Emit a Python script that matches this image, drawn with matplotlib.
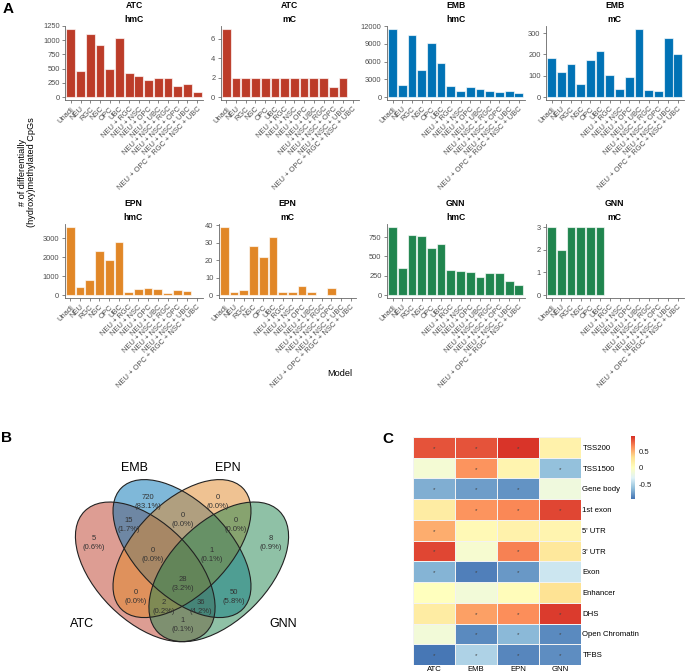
import numpy as np
import matplotlib.pyplot as plt
from matplotlib.patches import Ellipse
from matplotlib.colors import LinearSegmentedColormap

plt.rcParams['font.family'] = ['Liberation Sans', 'DejaVu Sans']

W, H = 685, 672

# panel A data
models = ["Unadj", "NEU", "RGC", "NSC", "OPC", "UBC", "NEU + RGC", "NEU + NSC",
          "NEU + OPC", "NEU + UBC", "NEU + NSC + RGC", "NEU + NSC + OPC",
          "NEU + NSC + UBC", "NEU + OPC + RGC + NSC + UBC"]
atc_hmc = [1195, 460, 1100, 920, 500, 1030, 420, 370, 300, 340, 330, 200, 230, 85]
atc_mc = [7, 2, 2, 2, 2, 2, 2, 2, 2, 2, 2, 1, 2, 0]
emb_hmc = [11500, 2100, 10500, 4600, 9200, 5700, 1850, 1050, 1700, 1350, 950, 850, 950, 750]
emb_mc = [182, 117, 156, 63, 174, 218, 104, 38, 92, 319, 32, 30, 276, 202]
epn_hmc = [3600, 430, 820, 2320, 1870, 2800, 170, 330, 380, 310, 120, 280, 190, 20]
epn_mc = [39, 2, 3, 28, 22, 33, 2, 2, 5, 2, 0, 4, 0, 0]
gnn_hmc = [880, 345, 775, 770, 605, 655, 320, 310, 300, 230, 285, 285, 180, 125]
gnn_mc = [3, 2, 3, 3, 3, 3, 0, 0, 0, 0, 0, 0, 0, 0]

# panel B data
venn_sets = ["ATC", "EMB", "EPN", "GNN"]
venn_counts = [5, 720, 0, 8, 15, 0, 0, 0, 1, 0, 1, 50, 2, 36, 28]
venn_pct = ["0.6", "83.1", "0.0", "0.9", "1.7", "0.0", "0.0", "0.0", "0.1", "0.0",
            "0.1", "5.8", "0.2", "4.2", "3.2"]

# panel C data
regions = ["TSS200", "TSS1500", "Gene body", "1st exon", "5' UTR", "3' UTR", "Exon",
           "Enhancer", "DHS", "Open Chromatin", "TFBS"]
tumours = ["ATC", "EMB", "EPN", "GNN"]
heat_atc = [0.84, -0.10, -0.68, 0.20, 0.52, 0.88, -0.66, 0.02, 0.20, -0.12, -0.92]
heat_emb = [0.84, 0.62, -0.76, 0.62, 0.08, -0.08, -0.88, -0.12, 0.57, -0.84, -0.50]
heat_epn = [0.94, 0.12, -0.80, 0.66, 0.15, 0.68, -0.78, 0.05, 0.64, -0.64, -0.85]
heat_gnn = [0.15, -0.60, -0.15, 0.88, 0.12, 0.25, -0.38, 0.30, 0.92, -0.84, -0.82]
star_atc = [1, 0, 1, 0, 1, 1, 1, 0, 0, 0, 1]
star_emb = [1, 1, 1, 1, 0, 0, 1, 0, 1, 1, 1]
star_epn = [1, 0, 1, 1, 0, 1, 1, 0, 1, 1, 1]
star_gnn = [0, 1, 0, 1, 0, 0, 0, 0, 1, 1, 1]

col_atc, col_emb, col_epn, col_gnn = '#BC3C29', '#0072B5', '#E18727', '#20854E'


def px_axes(fig, x0, y0, x1, y1):
    return fig.add_axes([x0 / W, 1 - y1 / H, (x1 - x0) / W, (y1 - y0) / H])


fig = plt.figure(figsize=(W / 100, H / 100), dpi=100)

panels = [
    ("ATC", "hmC", atc_hmc, col_atc, [0, 250, 500, 750, 1000, 1250], 65, 25.6),
    ("ATC", "mC", atc_mc, col_atc, [0, 2, 4, 6], 220.5, 25.6),
    ("EMB", "hmC", emb_hmc, col_emb, [0, 3000, 6000, 9000, 12000], 386.7, 25.6),
    ("EMB", "mC", emb_mc, col_emb, [0, 100, 200, 300], 545.7, 25.6),
    ("EPN", "hmC", epn_hmc, col_epn, [0, 1000, 2000, 3000], 64.5, 223.6),
    ("EPN", "mC", epn_mc, col_epn, [0, 10, 20, 30, 40], 218.5, 223.6),
    ("GNN", "hmC", gnn_hmc, col_gnn, [0, 250, 500, 750], 386.7, 223.6),
    ("GNN", "mC", gnn_mc, col_gnn, [0, 1, 2, 3], 545.7, 223.6),
]
for tum, mark, vals, col, yt, x0, y0 in panels:
    ax = px_axes(fig, x0, y0, x0 + 138, y0 + 74.8)
    xs = np.arange(1, len(models) + 1)
    ax.bar(xs, vals, width=0.9, color=col, edgecolor=(1, 1, 1, 0.65), linewidth=0.8)
    m = max(vals)
    ax.set_ylim(-0.05 * m, 1.05 * m)
    ax.set_xlim(0.4, len(models) + 0.6)
    ax.set_yticks(yt)
    ax.set_xticks(xs)
    ax.set_xticklabels(models, rotation=45, ha='right', rotation_mode='anchor')
    ax.tick_params(labelsize=5.4, length=2.2, width=0.5, colors='#555555',
                   labelcolor='#4d4d4d', pad=1.5)
    for s in ['top', 'right']:
        ax.spines[s].set_visible(False)
    for s in ['left', 'bottom']:
        ax.spines[s].set_color('#666666')
        ax.spines[s].set_linewidth(0.6)
    cx = (x0 + 69) / W
    fig.text(cx, 1 - (y0 - 19.6) / H, tum, ha='center', va='center', fontsize=6.2, fontweight='bold')
    fig.text(cx, 1 - (y0 - 5.6) / H, mark, ha='center', va='center', fontsize=6.2, fontweight='bold')

fig.text(27 / W, 1 - 172 / H, "# of differentially\n(hydroxy)methylated CpGs", rotation=90,
         ha='center', va='center', fontsize=6.6, linespacing=1.1)
fig.text(340 / W, 1 - 373 / H, "Model", ha='center', va='center', fontsize=6.6)


# panel B: venn, drawn in unit coordinates mapped from pixels
def u(x):
    return 0.5 + (x - 182) / 245


def v(y):
    return (687 - y) / 245


axv = px_axes(fig, 40, 400, 340, 672)
axv.set_xlim(u(40), u(340))
axv.set_ylim(v(672), v(400))
axv.axis('off')
ell = [((0.35, 0.47), -45, 0.4, col_atc), ((0.5, 0.565), -45, 0.38, col_emb),
       ((0.5, 0.565), 45, 0.38, col_epn), ((0.65, 0.47), 45, 0.4, col_gnn)]
for c, ang, b, col in ell:
    axv.add_patch(Ellipse(c, 0.7, b, angle=ang, facecolor=col, alpha=0.5, edgecolor='none'))
for c, ang, b, col in ell:
    axv.add_patch(Ellipse(c, 0.7, b, angle=ang, facecolor='none', edgecolor='#222222', lw=0.8))

# order: ATC, EMB, EPN, GNN, ATC&EMB, ATC&EMB&EPN, EMB&EPN, ATC&EPN,
# EMB&EPN&GNN, EPN&GNN, ATC&GNN, EMB&GNN, ATC&EPN&GNN, ATC&EMB&GNN, all
venn_pos = [(94, 543), (148, 502), (218, 502), (271, 543), (129, 525), (153, 555), (183, 520),
            (136, 597), (212, 555), (236, 525), (183, 625), (234, 597), (164, 607),
            (201, 607), (183, 584)]
for (x, y), n, p in zip(venn_pos, venn_counts, venn_pct):
    axv.text(u(x), v(y), f"{n}\n({p}%)", ha='center', va='center', fontsize=5.5,
             color='#333333', linespacing=1.3)
for name, (x, y) in zip(venn_sets, [(82, 624), (135, 468), (228, 468), (283, 624)]):
    axv.text(u(x), v(y), name, ha='center', va='center', fontsize=9)

# panel C: heatmap
cmap = LinearSegmentedColormap.from_list(
    'rdylbu7', ["#4575B4", "#91BFDB", "#E0F3F8", "#FFFFBF", "#FEE090", "#FC8D59", "#D73027"])
vmin, vmax = -0.93, 0.96
mat = np.array([heat_atc, heat_emb, heat_epn, heat_gnn]).T
stars = np.array([star_atc, star_emb, star_epn, star_gnn]).T
axh = px_axes(fig, 413, 437, 581, 665)
axh.pcolormesh(mat, cmap=cmap, vmin=vmin, vmax=vmax, edgecolors='#f2f2f2', linewidth=0.5)
axh.set_xlim(0, len(tumours))
axh.set_ylim(len(regions), 0)
for i in range(len(regions)):
    for j in range(len(tumours)):
        if stars[i, j]:
            axh.text(j + 0.5, i + 0.55, "*", ha='center', va='center', fontsize=4.5, color='#444444')
axh.yaxis.tick_right()
axh.set_yticks(np.arange(len(regions)) + 0.5)
axh.set_yticklabels(regions)
axh.set_xticks(np.arange(len(tumours)) + 0.5)
axh.set_xticklabels(tumours)
axh.tick_params(length=0, labelsize=5.6, pad=1)
for s in axh.spines.values():
    s.set_visible(False)

axc = px_axes(fig, 631, 436, 635, 499)
grad = np.linspace(vmax, vmin, 200).reshape(-1, 1)
axc.imshow(grad, cmap=cmap, vmin=vmin, vmax=vmax, aspect='auto', extent=[0, 1, vmin, vmax])
axc.set_xticks([])
axc.yaxis.tick_right()
axc.set_yticks([-0.5, 0, 0.5])
axc.set_yticklabels(["-0.5", "0", "0.5"])
axc.tick_params(length=1.5, labelsize=5.6, pad=1, width=0.4, colors='white', labelcolor='#222222')
for s in axc.spines.values():
    s.set_visible(False)

# panel letters
fig.text(3 / W, 1 - 9 / H, "A", fontsize=11, fontweight='bold', va='center')
fig.text(1 / W, 1 - 438 / H, "B", fontsize=11, fontweight='bold', va='center')
fig.text(382 / W, 1 - 439 / H, "C", fontsize=11, fontweight='bold', va='center')

fig.savefig("out.png", dpi=100)
